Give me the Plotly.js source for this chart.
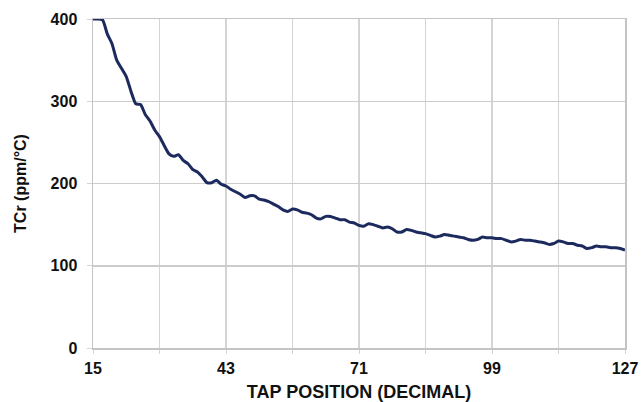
<!DOCTYPE html>
<html>
<head>
<meta charset="utf-8">
<script src="https://cdn.plot.ly/plotly-3.0.1.min.js"></script>
<style>html,body{margin:0;padding:0;background:#fff;}#chart{width:641px;height:402px;}</style>
</head>
<body>
<div id="chart"></div>
<script>
// Tap positions 15..127 and read-off TCr values
const tapStart = 15;
const tcr = [
  400, 400, 399, 382, 370, 350, 340, 330, 312, 297,
  296, 284, 276, 265, 257, 246, 236, 233, 235, 228,
  224, 217, 214, 208, 201, 201, 204, 199, 197, 193,
  190, 187, 183, 185, 185, 181, 180, 178, 175, 172,
  168, 166, 169, 168, 165, 164, 162, 158, 157, 160,
  160, 158, 156, 156, 153, 152, 149, 148, 151, 150,
  148, 146, 147, 145, 141, 141, 144, 143, 141, 140,
  139, 137, 135, 136, 138, 137, 136, 135, 134, 132,
  131, 132, 135, 134, 134, 133, 133, 131, 129, 130,
  132, 131, 131, 130, 129, 128, 126, 127, 130, 129,
  127, 127, 125, 124, 121, 122, 124, 123, 123, 122,
  122, 121, 119
];
const taps = tcr.map((_, i) => tapStart + i);
const xTickVals = [15, 29, 43, 57, 71, 85, 99, 113, 127];
const xTickText = ['15', '', '43', '', '71', '', '99', '', '127'];
const yTickVals = [0, 100, 200, 300, 400];
const yTickText = ['0', '100', '200', '300', '400'];

const fam = 'Arial, "Liberation Sans", sans-serif';
const bold = arr => arr.map(t => t ? '<b>' + t + '</b>' : '');

Plotly.newPlot('chart', [{
  x: taps,
  y: tcr,
  type: 'scatter',
  mode: 'lines',
  line: {color: '#1c2a5e', width: 3, shape: 'spline', smoothing: 0.6},
  hoverinfo: 'skip'
}], {
  width: 641,
  height: 402,
  margin: {l: 93, r: 16, t: 19, b: 54},
  paper_bgcolor: '#fff',
  plot_bgcolor: '#fff',
  showlegend: false,
  font: {family: fam, size: 16, color: '#111'},
  xaxis: {
    range: [15, 127],
    tickmode: 'array',
    tickvals: xTickVals,
    ticktext: bold(xTickText),
    tickfont: {family: fam, size: 16, color: '#111'},
    ticklabelstandoff: 1,
    showgrid: true,
    gridcolor: '#d4d4d4',
    gridwidth: 1.5,
    showline: true,
    linecolor: '#c4c4c4',
    linewidth: 1.5,
    mirror: true,
    ticks: 'outside',
    ticklen: 4,
    tickcolor: '#d4d4d4',
    zeroline: false,
    title: {text: '<b>TAP POSITION (DECIMAL)</b>', font: {family: fam, size: 18, color: '#111'}, standoff: 9}
  },
  yaxis: {
    range: [0, 400],
    tickmode: 'array',
    tickvals: yTickVals,
    ticktext: bold(yTickText),
    tickfont: {family: fam, size: 16, color: '#111'},
    ticklabelstandoff: 6,
    showgrid: true,
    gridcolor: '#cccccc',
    gridwidth: 1.5,
    showline: true,
    linecolor: '#c4c4c4',
    linewidth: 1.5,
    mirror: true,
    ticks: 'outside',
    ticklen: 5,
    tickcolor: '#d4d4d4',
    zeroline: false,
    title: {text: '<b>TCr (ppm/°C)</b>', font: {family: fam, size: 16, color: '#111'}, standoff: 20}
  }
}, {displayModeBar: false, staticPlot: true});
</script>
</body>
</html>
